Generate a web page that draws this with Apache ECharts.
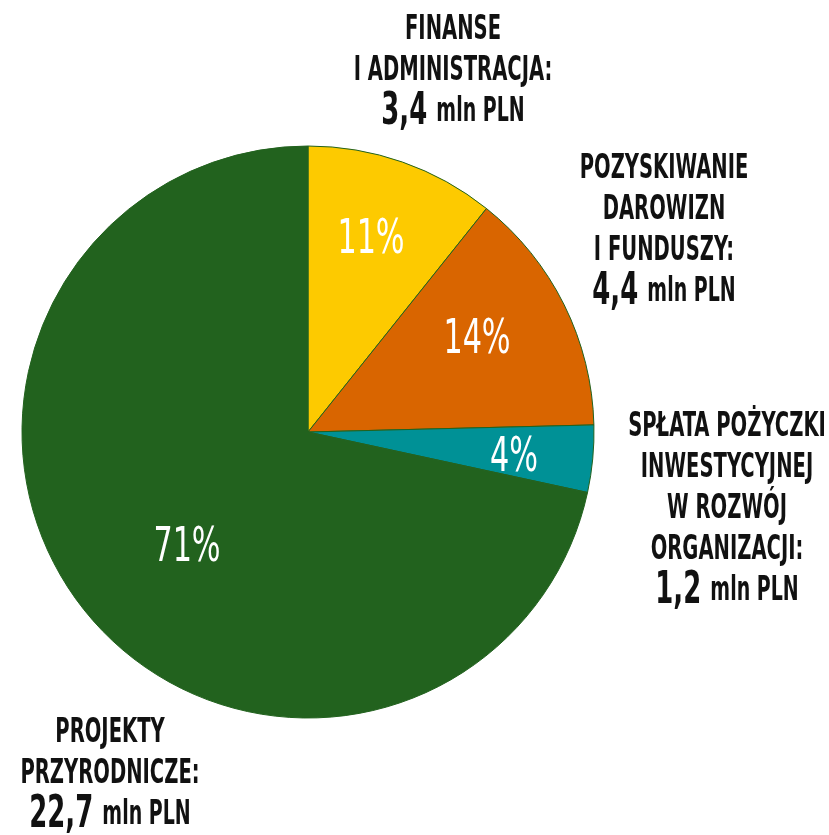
<!DOCTYPE html>
<html>
<head>
<meta charset="utf-8">
<script src="https://cdn.jsdelivr.net/npm/echarts@6/dist/echarts.min.js"></script>
<style>
html,body{margin:0;padding:0;background:#fff;}
#chart{width:829px;height:835px;}
</style>
</head>
<body>
<div id="chart"></div>
<script>
// ---- data ----
const categories = [
  'FINANSE\nI ADMINISTRACJA:',
  'POZYSKIWANIE\nDAROWIZN\nI FUNDUSZY:',
  'SPŁATA POŻYCZKI\nINWESTYCYJNEJ\nW ROZWÓJ\nORGANIZACJI:',
  'PROJEKTY\nPRZYRODNICZE:'
];
const amounts = [3.4, 4.4, 1.2, 22.7];          // mln PLN
const percentLabels = ['11%', '14%', '4%', '71%'];
const unit = 'mln PLN';

// ---- style / layout ----
const colors = ['#FDCA00', '#D96500', '#009196', '#22621E'];
const FONT = '"DejaVu Sans Condensed", "Liberation Sans Narrow", sans-serif';
const pctPos = [[371, 241], [477, 341], [514, 459], [187, 549]];
const outerPos = [[453, 71], [664, 231], [727, 509], [110, 774]];
const SQUEEZE_OUT = 0.64;
const SQUEEZE_PCT = 0.7;

const chart = echarts.init(document.getElementById('chart'), null, {renderer: 'canvas'});

const mainData = amounts.map((v, i) => ({
  value: v,
  name: categories[i],
  itemStyle: {color: colors[i]}
}));

const outerLabels = amounts.map((v, i) => ({
  type: 'text',
  x: outerPos[i][0],
  y: outerPos[i][1],
  scaleX: SQUEEZE_OUT,
  silent: true,
  style: {
    text: '{t|' + categories[i] + '}\n{n|' + String(v).replace('.', ',') + '}{u| ' + unit + '}',
    align: 'center',
    verticalAlign: 'middle',
    rich: {
      t: {fontFamily: FONT, fontWeight: 'bold', fontSize: 34, lineHeight: 41, fill: '#111', align: 'center'},
      n: {fontFamily: FONT, fontWeight: 'bold', fontSize: 45, lineHeight: 41, fill: '#111'},
      u: {fontFamily: FONT, fontWeight: 'bold', fontSize: 33, lineHeight: 41, fill: '#111', padding: [0, 0, 0, 4]}
    }
  }
}));

const pctLabels = percentLabels.map((t, i) => ({
  type: 'text',
  x: pctPos[i][0],
  y: pctPos[i][1],
  scaleX: SQUEEZE_PCT,
  silent: true,
  z: 100,
  style: {
    text: t,
    align: 'center',
    verticalAlign: 'middle',
    fontFamily: FONT,
    fontSize: 48,
    fill: '#fff'
  }
}));

chart.setOption({
  animation: false,
  backgroundColor: '#fff',
  series: [
    {
      type: 'pie',
      center: [308, 432],
      radius: [0, 286],
      startAngle: 90,
      clockwise: true,
      silent: true,
      itemStyle: {borderColor: '#22621E', borderWidth: 1},
      data: mainData,
      label: {show: false},
      labelLine: {show: false}
    }
  ],
  graphic: {elements: outerLabels.concat(pctLabels)}
});
</script>
</body>
</html>
